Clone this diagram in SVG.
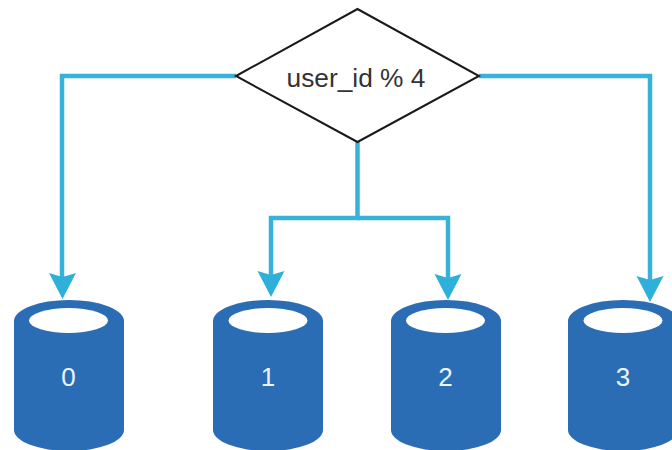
<svg xmlns="http://www.w3.org/2000/svg" width="672" height="450" viewBox="0 0 672 450">
<style>
.conn{fill:none;stroke:#38b2da;stroke-width:4.500}
.head{fill:#2fb0da}
.body{fill:#2a6db5}
.hole{fill:#fff}
.num{font-family:"Liberation Sans",Arial,sans-serif;font-size:26px;fill:#eef4fa;text-anchor:middle}
.lbl{font-family:"Liberation Sans",Arial,sans-serif;font-size:26.300px;fill:#333;text-anchor:middle}
</style>
<defs>
<path id="cyl" d="M0 21A55 21 0 0 1 110 21V130A55 21 0 0 1 0 130Z"/>
<path id="ah" d="M-13.500 -26L0 -22L13.500 -26L0 0Z"/>
</defs>
<rect width="672" height="450" fill="#fff"/>
<g id="connectors">
<path class="conn" d="M236 76H62V282"/>
<path class="conn" d="M479 76H650V285"/>
<path class="conn" d="M357.500 142V218H271V280"/>
<path class="conn" d="M357.500 218H448V283"/>
<use href="#ah" class="head" x="62.500" y="299"/>
<use href="#ah" class="head" x="271" y="297"/>
<use href="#ah" class="head" x="448" y="300"/>
<use href="#ah" class="head" x="650" y="302"/>
</g>
<g id="decision">
<polygon points="236,76 357.500,9 479,76 357.500,142" fill="#fff" stroke="#1a1a1a" stroke-width="2"/>
<text class="lbl" x="356" y="86.500">user_id % 4</text>
</g>
<g id="db0">
<use href="#cyl" class="body" x="14" y="300"/>
<ellipse class="hole" cx="68.500" cy="320.500" rx="39.500" ry="12.500"/>
<text class="num" x="68.500" y="386">0</text>
</g>
<g id="db1">
<use href="#cyl" class="body" x="213" y="300"/>
<ellipse class="hole" cx="268" cy="320.500" rx="39.500" ry="12.500"/>
<text class="num" x="268" y="386">1</text>
</g>
<g id="db2">
<use href="#cyl" class="body" x="391" y="300"/>
<ellipse class="hole" cx="445.500" cy="320.500" rx="39.500" ry="12.500"/>
<text class="num" x="445.500" y="386">2</text>
</g>
<g id="db3">
<use href="#cyl" class="body" x="568" y="300"/>
<ellipse class="hole" cx="623" cy="320.500" rx="39.500" ry="12.500"/>
<text class="num" x="623" y="386">3</text>
</g>
</svg>
